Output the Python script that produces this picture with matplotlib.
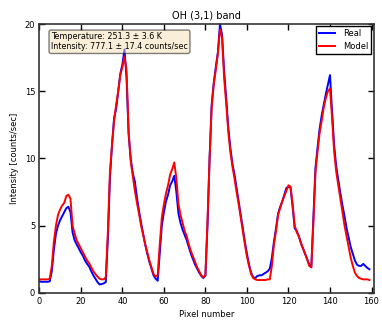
import matplotlib
matplotlib.use("Agg")
import matplotlib.pyplot as plt
import numpy as np

pixel = np.arange(160)

real = [0.85, 0.82, 0.82, 0.82, 0.82, 0.85, 1.6, 3.2, 4.4, 5.0,
        5.4, 5.7, 6.0, 6.3, 6.4, 6.0, 4.5, 3.9, 3.6, 3.3,
        3.0, 2.75, 2.4, 2.15, 1.95, 1.6, 1.3, 1.05, 0.8, 0.62,
        0.65, 0.7, 0.8, 4.0, 8.5, 11.0, 13.0, 13.7, 15.0, 16.3,
        17.0, 18.1, 16.0, 11.8, 10.0, 8.9, 8.3, 7.1, 6.1, 5.2,
        4.4, 3.6, 2.9, 2.3, 1.8, 1.3, 1.05, 0.9, 3.0, 5.0,
        6.0, 6.8, 7.3, 8.0, 8.3, 8.7, 7.5, 5.9, 5.2, 4.7,
        4.3, 3.9, 3.4, 2.9, 2.5, 2.1, 1.8, 1.5, 1.25, 1.1,
        1.3, 5.0, 10.0, 14.0, 15.6, 16.8, 17.9, 20.0, 19.2, 16.5,
        14.5, 12.3, 10.8, 9.6, 8.8, 7.8, 6.8, 5.8, 4.8, 3.8,
        2.9, 2.1, 1.5, 1.15, 1.1, 1.25, 1.3, 1.3, 1.4, 1.5,
        1.6, 1.8, 2.6, 3.8, 4.8, 5.9, 6.4, 6.8, 7.3, 7.8,
        7.9, 7.8, 6.4, 4.8, 4.6, 4.2, 3.7, 3.3, 2.9, 2.5,
        2.1, 1.9, 5.6, 9.3, 10.8, 12.2, 13.2, 14.0, 14.8, 15.5,
        16.2, 13.5, 11.0, 9.4, 8.4, 7.4, 6.5, 5.7, 4.8, 4.1,
        3.4, 2.9, 2.4, 2.1, 2.0, 2.0, 2.15, 2.0, 1.85, 1.75]

model = [1.0, 1.0, 1.0, 1.0, 1.0, 1.05, 2.0, 3.8, 5.0, 5.8,
         6.2, 6.5, 6.7, 7.2, 7.3, 7.0, 5.0, 4.4, 3.9, 3.6,
         3.3, 3.0, 2.7, 2.4, 2.2, 1.9, 1.6, 1.4, 1.2, 1.05,
         1.0, 1.0, 1.15, 4.5, 9.0, 11.0, 12.8, 14.0, 15.0, 16.2,
         16.8, 17.6, 16.5, 12.0, 9.8, 8.7, 7.6, 6.7, 5.9, 5.0,
         4.3, 3.6, 3.0, 2.4, 1.9, 1.4, 1.2, 1.3, 3.6, 5.6,
         6.6, 7.4, 8.0, 8.8, 9.2, 9.7, 8.5, 6.6, 5.8, 5.2,
         4.6, 4.2, 3.6, 3.1, 2.7, 2.3, 1.9, 1.6, 1.3, 1.15,
         1.3, 5.4, 10.0, 13.8, 15.5, 16.6, 17.8, 19.6, 19.0, 16.0,
         14.1, 12.0, 10.5, 9.4, 8.5, 7.5, 6.6, 5.6, 4.6, 3.6,
         2.7, 2.0, 1.4, 1.1, 1.0, 0.95, 0.95, 0.95, 0.95, 0.95,
         1.0, 1.0, 2.0, 3.6, 4.6, 5.8, 6.3, 6.8, 7.2, 7.6,
         8.0, 7.9, 6.6, 5.0, 4.5, 4.2, 3.7, 3.3, 2.9, 2.5,
         2.0, 1.9, 5.2, 9.0, 10.5, 11.9, 12.8, 13.8, 14.5, 15.0,
         15.2, 13.0, 10.5, 9.0, 8.0, 7.0, 6.0, 5.0, 4.2, 3.4,
         2.6, 2.0, 1.5, 1.25, 1.1, 1.05, 1.0, 1.0, 1.0, 0.95]

title = "OH (3,1) band"
info_text = "Temperature: 251.3 \u00b1 3.6 K\nIntensity: 777.1 \u00b1 17.4 counts/sec"

plt.rcParams['font.family'] = ['DejaVu Sans']

fig = plt.figure(figsize=(3.82, 3.2), dpi=100)
ax = fig.add_axes([0.103, 0.085, 0.875, 0.84])

ax.plot(pixel, real, color='blue', lw=1.4, label='Real')
ax.plot(pixel, model, color='red', lw=1.4, label='Model')

ax.set_xlim(0, 161)
ax.set_ylim(0, 20)
ax.set_xticks(np.arange(0, 161, 20))
ax.set_yticks(np.arange(0, 21, 5))
ax.tick_params(direction='in', top=True, right=True, length=4, width=1, labelsize=6, pad=3)
for s in ax.spines.values():
    s.set_linewidth(1.2)
    s.set_color('#333333')

ax.set_title(title, fontsize=7, pad=4)
ax.set_xlabel("Pixel number", fontsize=6, labelpad=3)
ax.set_ylabel("Intensity [counts/sec]", fontsize=6, labelpad=4)

ax.text(0.035, 0.97, info_text, transform=ax.transAxes, fontsize=5.8,
        va='top', ha='left', linespacing=1.2,
        bbox=dict(boxstyle='round,pad=0.25', facecolor='wheat', alpha=0.5))

leg = ax.legend(loc='upper right', fontsize=6, fancybox=False, framealpha=1,
                edgecolor='black', handlelength=2.0, borderpad=0.35,
                labelspacing=0.45, handletextpad=0.9, borderaxespad=0.3)
leg.get_frame().set_linewidth(1.0)

fig.savefig("out.png", dpi=100)
